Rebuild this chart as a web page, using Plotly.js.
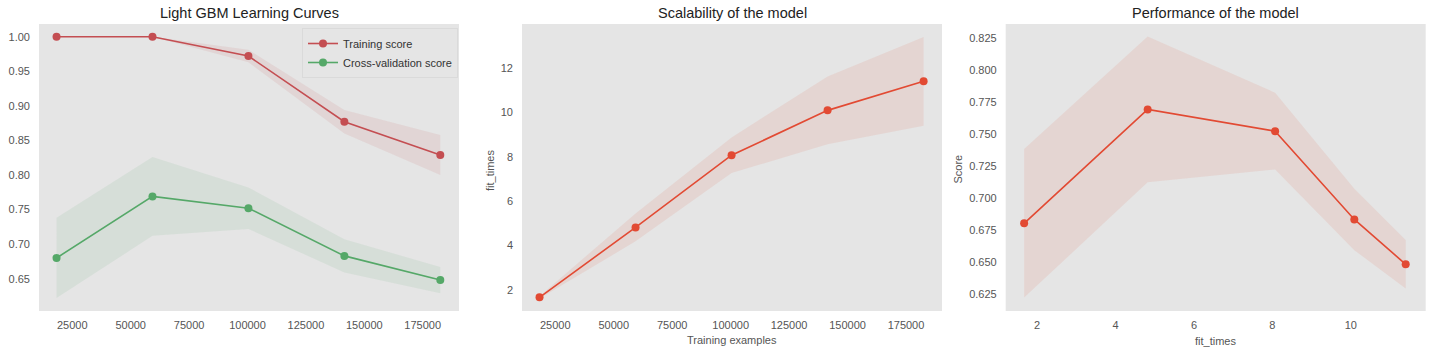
<!DOCTYPE html>
<html>
<head>
<meta charset="utf-8">
<script src="https://cdn.plot.ly/plotly-3.0.1.min.js"></script>
<style>html,body{margin:0;padding:0;background:#fff;}#chart{width:1432px;height:352px;}</style>
</head>
<body>
<div id="chart"></div>
<script>
// ---- data ----
const trainSizes = [18253, 59323, 100394, 141464, 182534];
const trainScoreMean = [1.000, 1.000, 0.972, 0.877, 0.829];
const trainScoreStd  = [0.000, 0.000, 0.009, 0.017, 0.029];
const testScoreMean  = [0.680, 0.769, 0.752, 0.683, 0.648];
const testScoreStd   = [0.058, 0.057, 0.030, 0.024, 0.019];
const fitTimesMean   = [1.67, 4.82, 8.07, 10.09, 11.40];
const fitTimesStd    = [0.05, 0.63, 0.80, 1.53, 2.00];

const titles = ["Light GBM Learning Curves", "Scalability of the model", "Performance of the model"];
const seriesNames = ["Training score", "Cross-validation score"];

// ---- helpers ----
function band(x, m, s, color, xa, ya) {
  const up = m.map((v, i) => v + s[i]);
  const lo = m.map((v, i) => v - s[i]);
  return {
    x: x.concat(x.slice().reverse()),
    y: up.concat(lo.slice().reverse()),
    fill: 'toself', fillcolor: color, line: {width: 0}, mode: 'lines',
    showlegend: false, hoverinfo: 'skip', xaxis: xa, yaxis: ya
  };
}
function line(x, y, color, name, xa, ya, showlegend) {
  return {
    x: x, y: y, mode: 'lines+markers', name: name,
    line: {color: color, width: 1.6}, marker: {color: color, size: 8},
    showlegend: showlegend, xaxis: xa, yaxis: ya
  };
}

const RED = '#C44E52', GREEN = '#55A868', ORANGE = '#E24A33';

const traces = [
  band(trainSizes, trainScoreMean, trainScoreStd, 'rgba(196,78,82,0.1)', 'x', 'y'),
  band(trainSizes, testScoreMean, testScoreStd, 'rgba(85,168,104,0.1)', 'x', 'y'),
  line(trainSizes, trainScoreMean, RED, seriesNames[0], 'x', 'y', true),
  line(trainSizes, testScoreMean, GREEN, seriesNames[1], 'x', 'y', true),
  band(trainSizes, fitTimesMean, fitTimesStd, 'rgba(226,74,51,0.1)', 'x2', 'y2'),
  line(trainSizes, fitTimesMean, ORANGE, 'fit', 'x2', 'y2', false),
  band(fitTimesMean, testScoreMean, testScoreStd, 'rgba(226,74,51,0.1)', 'x3', 'y3'),
  line(fitTimesMean, testScoreMean, ORANGE, 'perf', 'x3', 'y3', false)
];

const W = 1432, H = 352;
const yTop = 1 - 24 / H, yBot = 1 - 311 / H;
const FAM = 'Liberation Sans, Arial, sans-serif';
const tickFont = {family: FAM, size: 11, color: '#555555'};
function ax(domain, range, extra) {
  return Object.assign({
    domain: domain, range: range, showgrid: false, zeroline: false, showline: false,
    ticks: '', tickfont: tickFont, exponentformat: 'none', separatethousands: false,
    fixedrange: true
  }, extra);
}

const d1 = [39 / W, 459 / W], d2 = [522 / W, 942 / W], d3 = [1005.7 / W, 1425.7 / W];

const layout = {
  width: W, height: H,
  margin: {l: 0, r: 0, t: 0, b: 0},
  paper_bgcolor: '#ffffff',
  plot_bgcolor: '#E5E5E5',
  font: {family: FAM, color: '#333'},
  showlegend: true,
  legend: {
    x: 302 / W, y: 1 - 28 / H, xanchor: 'left', yanchor: 'top',
    bgcolor: '#E5E5E5', bordercolor: '#dadada', borderwidth: 1,
    font: {family: FAM, size: 11, color: '#333'},
    tracegroupgap: 0, itemwidth: 30
  },
  xaxis: ax(d1, [10745, 190540], {anchor: 'y', tick0: 25000, dtick: 25000, tickformat: 'd', ticklabelstandoff: 6}),
  yaxis: ax([yBot, yTop], [0.6033, 1.0184], {anchor: 'x', tick0: 0, dtick: 0.05, tickformat: '.2f', ticklabelstandoff: 8}),
  xaxis2: ax(d2, [10757, 190400], {anchor: 'y2', tick0: 25000, dtick: 25000, tickformat: 'd', ticklabelstandoff: 6}),
  yaxis2: ax([yBot, yTop], [1.054, 13.98], {anchor: 'x2', tick0: 0, dtick: 2, ticklabelstandoff: 8}),
  xaxis3: ax(d3, [1.20, 11.91], {anchor: 'y3', tick0: 0, dtick: 2, ticklabelstandoff: 6}),
  yaxis3: ax([yBot, yTop], [0.6115, 0.8357], {anchor: 'x3', tick0: 0, dtick: 0.025, tickformat: '.3f', ticklabelstandoff: 8}),
  annotations: []
};

const titleFont = {family: FAM, size: 14.5, color: '#222'};
[d1, d2, d3].forEach((d, i) => {
  layout.annotations.push({
    text: titles[i], xref: 'paper', yref: 'paper', x: (d[0] + d[1]) / 2, y: 1 - 13 / H,
    xanchor: 'center', yanchor: 'middle', showarrow: false, font: titleFont
  });
});
const labFont = {family: FAM, size: 11, color: '#555555'};
layout.annotations.push(
  {text: 'Training examples', xref: 'paper', yref: 'paper', x: 732 / W, y: 1 - 340 / H,
   xanchor: 'center', yanchor: 'middle', showarrow: false, font: labFont},
  {text: 'fit_times', xref: 'paper', yref: 'paper', x: 490 / W, y: 1 - 171 / H, textangle: -90,
   xanchor: 'center', yanchor: 'middle', showarrow: false, font: labFont},
  {text: 'Score', xref: 'paper', yref: 'paper', x: 957.5 / W, y: 1 - 169 / H, textangle: -90,
   xanchor: 'center', yanchor: 'middle', showarrow: false, font: labFont},
  {text: 'fit_times', xref: 'paper', yref: 'paper', x: 1215 / W, y: 1 - 341 / H,
   xanchor: 'center', yanchor: 'middle', showarrow: false, font: labFont}
);

Plotly.newPlot('chart', traces, layout, {displayModeBar: false, staticPlot: true});
</script>
</body>
</html>
